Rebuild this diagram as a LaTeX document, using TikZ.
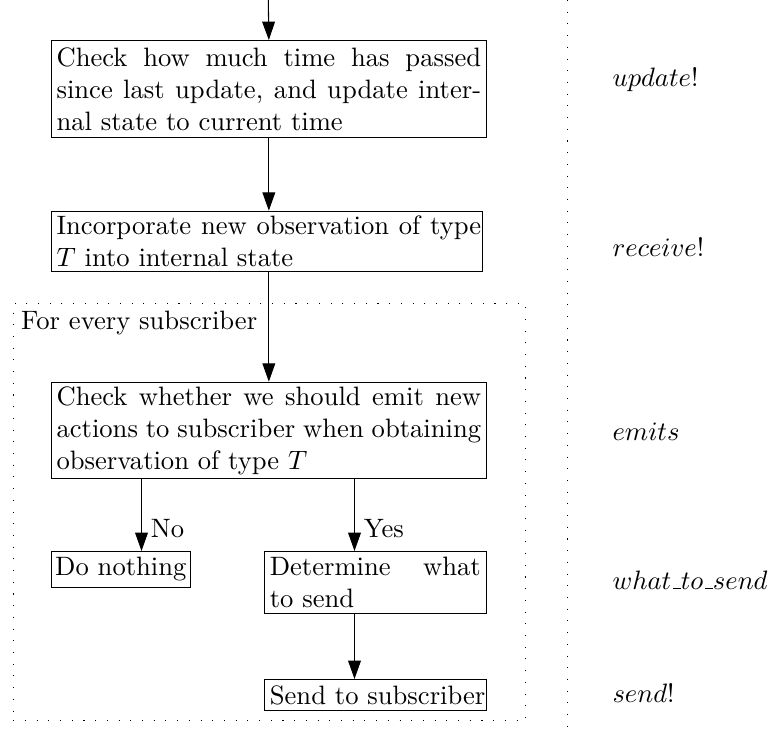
\documentclass[tikz,border=0pt]{standalone}
\usetikzlibrary{arrows.meta}
\newcommand{\usc}{\kern.06em\vbox{\hrule width.3em}}
\begin{document}
\begin{tikzpicture}[x=0.3759pt,y=-0.3759pt,
  box/.style={draw, line width=0.4pt, inner xsep=2pt, inner ysep=2.2pt, anchor=north west, text width=159.6pt, align=justify},
  smallbox/.style={draw, line width=0.4pt, inner xsep=1.5pt, inner ysep=2.2pt, anchor=north west},
  arr/.style={-{Triangle[length=6.9pt,width=4.8pt]}, line width=0.4pt},
  lbl/.style={anchor=west, inner sep=0pt},
  dotline/.style={loosely dotted, line width=0.4pt}]
\useasboundingbox (0,0) rectangle (768,732);

% dotted frame
\node[draw, loosely dotted, anchor=north west, minimum width=192.6pt, minimum height=156.9pt, inner sep=0pt] (frame) at (12.7,302.7) {};
\node[anchor=north west, inner xsep=3pt, inner ysep=3pt] (fe) at (frame.north west) {For every subscriber};

% boxes
\node[box, inner ysep=2.7pt] (b1) at (50.7,40) {Check how much time has passed\linebreak since last update, and update inter-\linebreak nal state to current time};
\node[box, inner ysep=1.7pt, text width=158pt] (b2) at (50.7,210.7) {\makebox[159.6pt][s]{Incorporate new observation of type}\\ $T$ into internal state};
\node[box, inner ysep=1.6pt] (b3) at (50.7,381.7) {Check whether we should emit new\linebreak actions to subscriber when obtaining\linebreak observation of type $T$};
\node[smallbox] (dn) at (50.7,551) {Do nothing};
\node[box, text width=79.3pt] (det) at (264,551) {Determine what\linebreak to send};
\node[box, text width=79.3pt, align=left] (snd) at (264,679) {\mbox{Send to subscriber}};

% arrows
\coordinate (top) at (268.3,0);
\coordinate (nox) at (141.5,0);
\coordinate (yesx) at (354.5,0);
\draw[arr] (top) -- (b1.north);
\draw[arr] (b1.south) -- (b1.south |- b2.north);
\draw[arr] (b2.south -| b1.south) -- (b3.north);
\draw[arr] (b3.south -| nox) -- (dn.north -| nox) node[pos=0.68, anchor=west] (no) {No};
\draw[arr] (b3.south -| yesx) -- (det.north -| yesx) node[pos=0.68, anchor=west] (yes) {Yes};
\draw[arr] (det.south -| yesx) -- (snd.north -| yesx);

% separator line
\coordinate (vt) at (567.7,0);
\coordinate (vb) at (567.7,732);
\draw[dotline] (vt) -- (vb);

% right labels
\node[lbl] (l1) at (612,80) {$update$!};
\node[lbl] (l2) at (612,247) {$receive$!};
\node[lbl] (l3) at (612,432) {$emits$};
\node[lbl] (l4) at (612,580) {$what\usc to\usc send$};
\node[lbl] (l5) at (612,693) {$send$!};
\end{tikzpicture}
\end{document}
